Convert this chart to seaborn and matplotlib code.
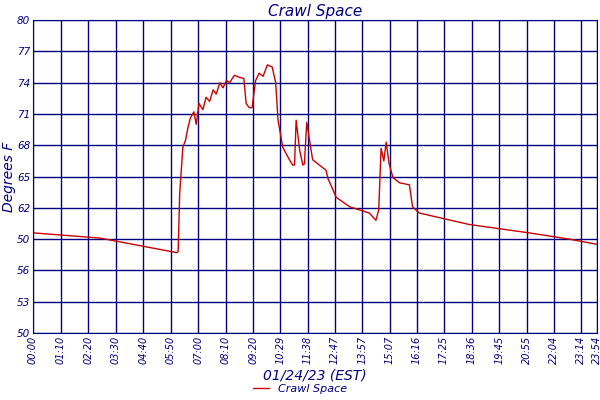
import matplotlib
matplotlib.use("Agg")
import matplotlib.pyplot as plt
import seaborn as sns
import pandas as pd

minutes = [0, 170, 366, 369, 373, 381, 388, 394, 400, 409, 415, 422, 432, 440, 449, 458, 466, 475, 483, 492, 500, 512, 525, 536, 542, 550, 557, 566, 575, 585, 596, 608, 617, 623, 635, 652, 660, 665, 669, 678, 686, 690, 696, 711, 745, 750, 771, 805, 855, 872, 879, 885, 892, 898, 905, 915, 932, 957, 965, 982, 1109, 1261, 1363, 1434]
temps = [59.6, 59.1, 57.7, 57.8, 63.4, 67.8, 68.5, 69.7, 70.6, 71.2, 70.0, 72.0, 71.4, 72.6, 72.2, 73.3, 72.9, 74.0, 73.5, 74.2, 74.0, 74.7, 74.5, 74.4, 72.0, 71.6, 71.6, 74.2, 74.9, 74.6, 75.7, 75.5, 74.0, 70.4, 67.8, 66.6, 66.1, 66.1, 70.4, 67.5, 66.1, 66.2, 70.2, 66.6, 65.6, 64.8, 63.0, 62.1, 61.5, 60.8, 61.8, 67.7, 66.5, 68.3, 66.3, 67.8, 64.9, 64.4, 64.2, 62.1, 61.5, 60.4, 59.6, 59.0, 58.5]
xtick_pos = [0, 70, 140, 210, 280, 350, 420, 490, 560, 629, 698, 767, 837, 907, 976, 1045, 1116, 1185, 1255, 1324, 1394, 1434]
xtick_labels = ["00:00", "01:10", "02:20", "03:30", "04:40", "05:50", "07:00", "08:10", "09:20", "10:29", "11:38", "12:47", "13:57", "15:07", "16:16", "17:25", "18:36", "19:45", "20:55", "22:04", "23:14", "23:54"]
ytick_pos = [50, 53, 56, 59, 62, 65, 68, 71, 74, 77, 80]
ytick_labels = ["50", "53", "56", "50", "62", "65", "68", "71", "74", "77", "80"]

# align lengths (last reading values)
n = min(len(minutes), len(temps))
temps = temps[:55] + temps[56:] if len(temps) > len(minutes) else temps
df = pd.DataFrame({"minute": minutes[:len(temps)], "temp": temps[:len(minutes)]})

navy = "#000080"
sns.set_style("white")
plt.rcParams["font.family"] = ["DejaVu Sans"]
fig = plt.figure(figsize=(6, 4), dpi=100)
ax = fig.add_axes([0.055, 0.1675, 0.94, 0.7825])
sns.lineplot(data=df, x="minute", y="temp", color="#cc0000", lw=1, ax=ax, label="Crawl Space", legend=False)
ax.set_xlim(0, 1434)
ax.set_ylim(50, 80)
ax.set_xticks(xtick_pos)
ax.set_xticklabels(xtick_labels, rotation=90, fontsize=7, color=navy, style="italic")
ax.set_yticks(ytick_pos)
ax.set_yticklabels(ytick_labels, fontsize=7.5, color=navy, style="italic")
ax.grid(True, color=navy, lw=1)
for s in ax.spines.values():
    s.set_color(navy)
ax.tick_params(length=0, pad=2)
ax.set_xlabel("01/24/23 (EST)", fontsize=10, color=navy, style="italic", labelpad=3)
ax.set_ylabel("Degrees F", fontsize=10, color=navy, style="italic", labelpad=1)
ax.set_title("Crawl Space", fontsize=11, color=navy, style="italic", pad=3)
h, l = ax.get_legend_handles_labels()
leg = fig.legend(h, l, loc="lower center", bbox_to_anchor=(0.5, -0.01), frameon=False, fontsize=8, handlelength=1.5)
for t in leg.get_texts():
    t.set_color(navy); t.set_style("italic")
fig.savefig("out.png", dpi=100, facecolor="white")
